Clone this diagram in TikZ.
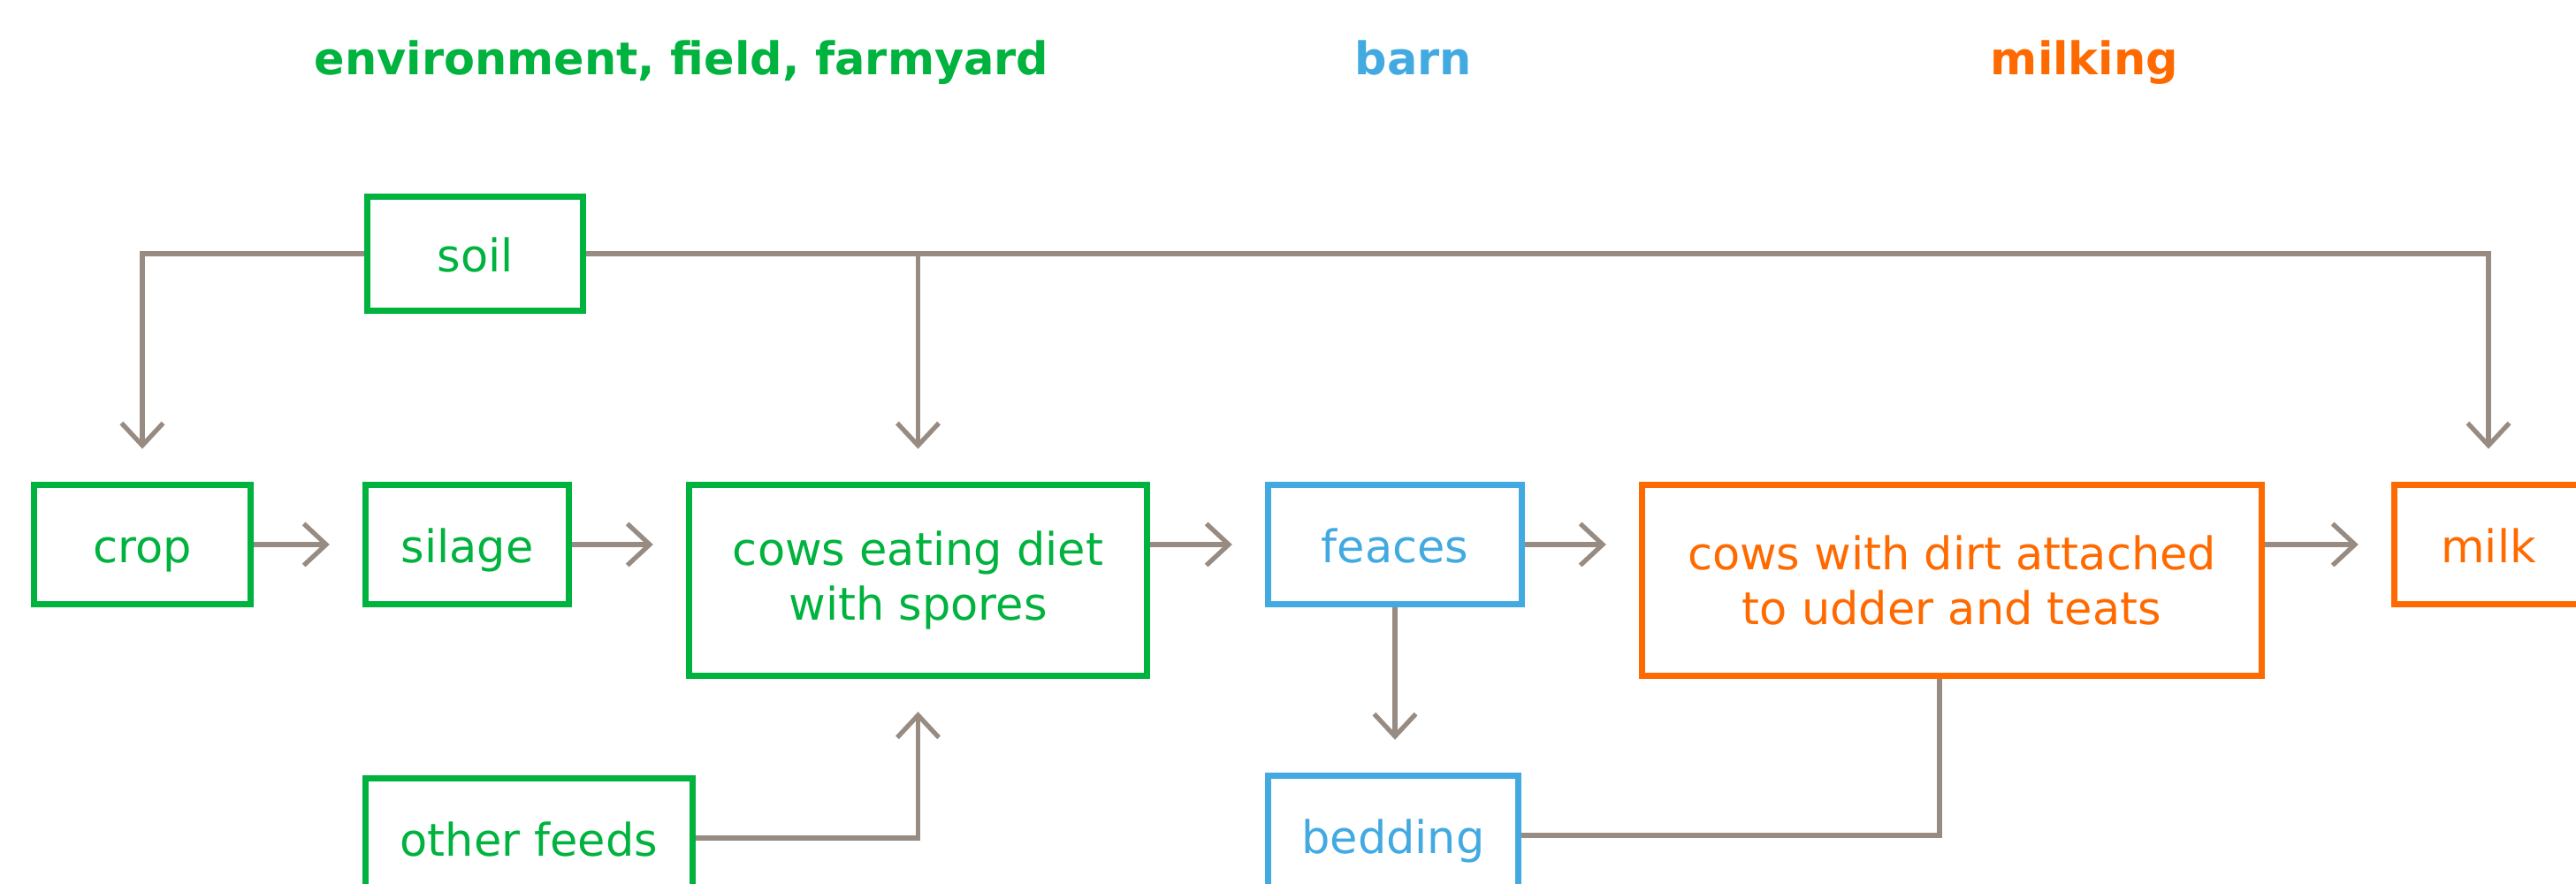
\documentclass[tikz,border=0pt]{standalone}
\usepackage{fontspec}
\setmainfont{DejaVu Sans}
\usepackage{tikz}
\usetikzlibrary{arrows.meta,positioning}
\definecolor{envgreen}{RGB}{0,178,62}
\definecolor{barnblue}{RGB}{66,170,225}
\definecolor{milkorange}{RGB}{255,106,0}
\definecolor{flowgray}{RGB}{152,139,129}
\tikzset{
  box/.style={draw, line width=2.1pt, align=center, fill=white,
    font=\fontsize{14.5}{17.6}\selectfont},
  oneline/.style={text height=14.5pt, text depth=3pt},
  envbox/.style={box, draw=envgreen, text=envgreen},
  barnbox/.style={box, draw=barnblue, text=barnblue},
  milkbox/.style={box, draw=milkorange, text=milkorange},
  heading/.style={anchor=base, font=\fontsize{14.5}{17.6}\selectfont\bfseries},
  link/.style={draw=flowgray, line width=1.5pt},
  flow/.style={link, -{Straight Barb[length=7.2pt,width=13.4pt]}, shorten >=3.7mm}
}

\begin{document}
\begin{tikzpicture}
  \useasboundingbox (0,0) rectangle (29.14,10);

  % headings
  \node[heading, text=envgreen] (henv) at (7.71,9.15) {environment, field, farmyard};
  \node[heading, text=barnblue] (hbarn) at (15.99,9.15) {barn};
  \node[heading, text=milkorange] (hmilk) at (23.58,9.15) {milking};

  % field
  \node[envbox, oneline, minimum width=2.44cm, minimum height=1.29cm] (soil) at (5.375,7.13) {soil};
  \node[envbox, oneline, minimum width=2.45cm, minimum height=1.35cm] (crop) at (1.61,3.84) {crop};
  \node[envbox, oneline, minimum width=2.30cm, minimum height=1.35cm] (silage) at (5.285,3.84) {silage};
  \node[envbox, minimum width=5.18cm, minimum height=2.16cm] (cows) at (10.385,3.435)
    {cows eating diet\\with spores};
  \node[envbox, oneline, minimum width=3.70cm, minimum height=1.35cm] (other) at (5.985,0.52) {other feeds};

  % barn
  \node[barnbox, oneline, minimum width=2.87cm, minimum height=1.35cm] (feaces) at (15.78,3.84) {feaces};
  \node[barnbox, oneline, minimum width=2.83cm, minimum height=1.35cm] (bedding) at (15.76,0.55) {bedding};

  % milking
  \node[milkbox, minimum width=7.01cm, minimum height=2.16cm] (dirty) at (22.08,3.435)
    {cows with dirt attached\\to udder and teats};
  \node[milkbox, oneline, minimum width=2.13cm, minimum height=1.35cm] (milk) at (28.15,3.84) {milk};

  % soil to crop, diet and milk
  \draw[flow] (soil.west) -| (crop.north);
  \draw[flow] (soil.east -| cows.north) -- (cows.north);
  \draw[flow] (soil.east) -| (milk.north);

  % main chain
  \draw[flow] (crop.east) -- (silage.west);
  \draw[flow] (silage.east) -- (silage.east -| cows.west);
  \draw[flow] (cows.east |- feaces.west) -- (feaces.west);
  \draw[flow] (feaces.east) -- (feaces.east -| dirty.west);
  \draw[flow] (dirty.east |- milk.west) -- (milk.west);

  % side paths
  \draw[flow] (other.east) -| (cows.south);
  \draw[flow] (feaces.south) -- (feaces.south |- bedding.north);
  \draw[link] (bedding.east) -| ([xshift=-1.4mm]dirty.south);
\end{tikzpicture}
\end{document}
